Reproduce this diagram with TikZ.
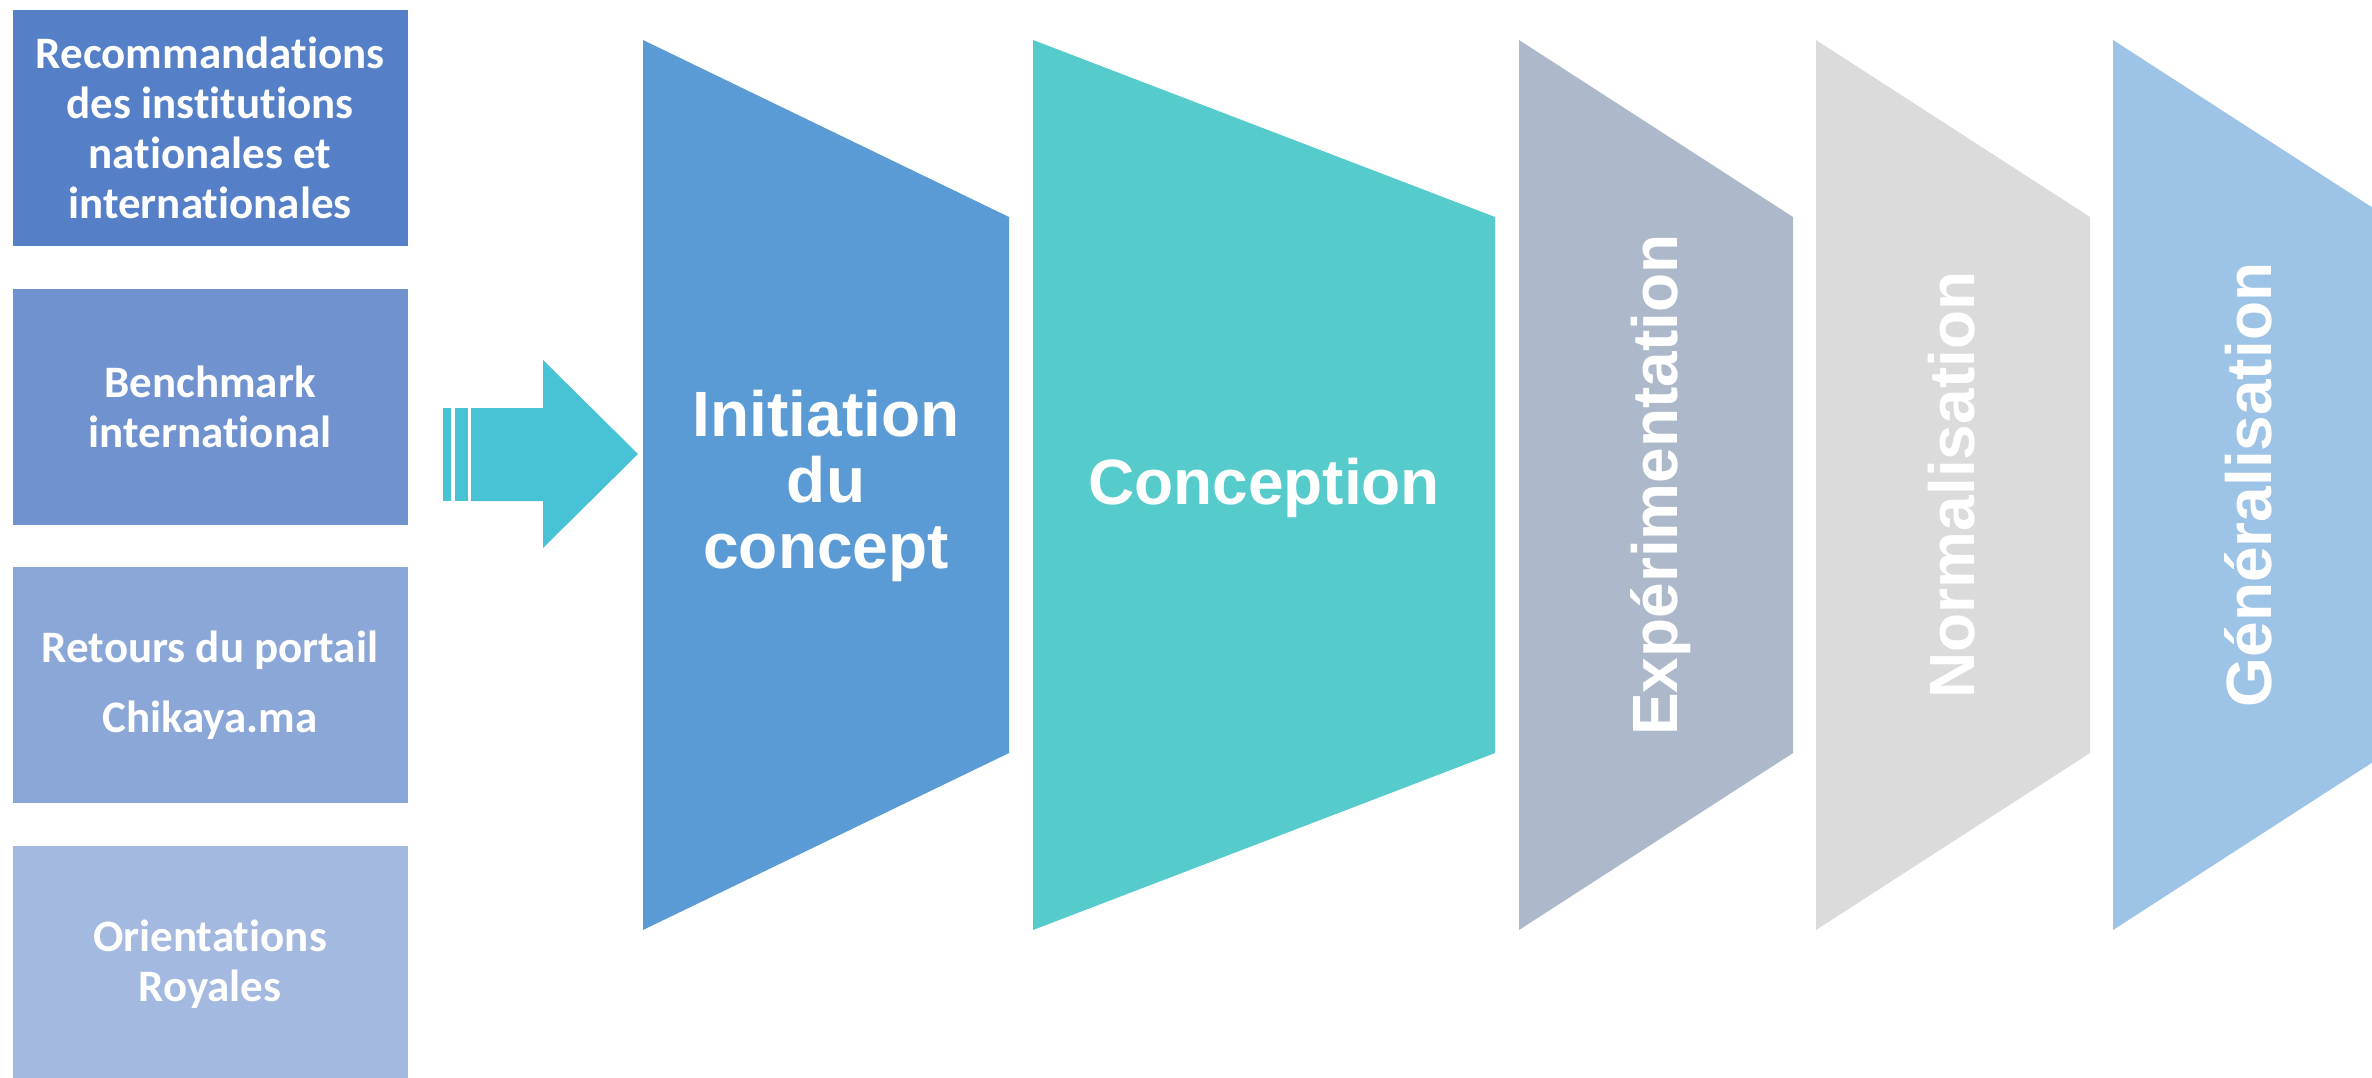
\documentclass[tikz,border=0pt]{standalone}
\usepackage{fontspec}
\setmainfont{Liberation Sans}
\newfontfamily\boxfont[Ligatures=NoCommon]{Carlito}
\usetikzlibrary{calc}

\definecolor{recoBlue}{HTML}{5580C8}
\definecolor{benchBlue}{HTML}{7092CF}
\definecolor{retourBlue}{HTML}{8AA7D8}
\definecolor{orientBlue}{HTML}{A3B9E0}
\definecolor{arrowTeal}{HTML}{48C3D6}
\definecolor{initBlue}{HTML}{5B9BD5}
\definecolor{concTeal}{HTML}{55CBCC}
\definecolor{expGrey}{HTML}{ADB9CA}
\definecolor{normGrey}{HTML}{DBDBDB}
\definecolor{genBlue}{HTML}{9DC3E6}

\begin{document}
\begin{tikzpicture}[x=1pt,y=-1pt,
  srcbox/.style={fill=#1, minimum width=395pt, minimum height=236pt, inner sep=0pt,
    text=white, align=center, font=\boxfont\bfseries\fontsize{45}{50}\selectfont},
  phase/.style={text=white, inner sep=0pt, align=center, font=\bfseries\fontsize{64}{66}\selectfont}]
\useasboundingbox (0,0) rectangle (2372,1077);

% sources
\node[srcbox=recoBlue] (reco) at (210,127.5) {Recommandations\\des institutions\\nationales et\\internationales};
\node[srcbox=benchBlue] (bench) at (210,406.5) {Benchmark\\international};
\node[srcbox=retourBlue, font=\boxfont\bfseries\fontsize{45}{70}\selectfont] (retour) at (210,685) {Retours du portail\\Chikaya.ma};
\node[srcbox=orientBlue] (orient) at (210,964) {Orientations\\Royales};

% arrow
\fill[arrowTeal] (443,408) rectangle (451,501);
\fill[arrowTeal] (455,408) rectangle (468,501);
\fill[arrowTeal] (471,408) -- (543,408) -- (543,360) -- (638,454) -- (543,548) -- (543,501) -- (471,501) -- cycle;

% phases
\fill[initBlue] (643,40) -- (1009,217) -- (1009,753) -- (643,930) -- cycle;
\node[phase] (init) at (826,486) {Initiation\\du\\concept};
\fill[concTeal] (1033,40) -- (1495,217) -- (1495,753) -- (1033,930) -- cycle;
\node[phase] (conc) at (1264,488) {Conception};
\foreach \x/\c/\t/\n in {1519/expGrey/Expérimentation/exp, 1816/normGrey/Normalisation/norm, 2113/genBlue/Généralisation/gen} {
  \fill[\c] (\x,40) -- ++(274,177) -- ++(0,536) -- (\x,930) -- cycle;
  \node[phase, rotate=90, anchor=base] (\n) at (\x+158,485) {\t};
}
\end{tikzpicture}
\end{document}
